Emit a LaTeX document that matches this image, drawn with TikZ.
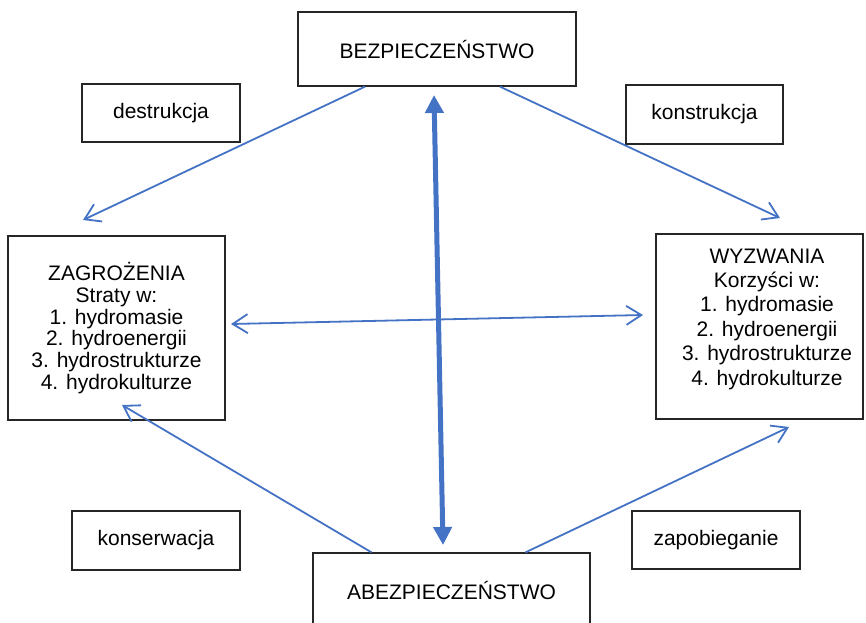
\documentclass[tikz,border=0pt]{standalone}
\usepackage{fontspec}
\setmainfont{Liberation Sans}
\usetikzlibrary{arrows.meta,calc}
\definecolor{linkblue}{RGB}{68,114,196}
\begin{document}
\begin{tikzpicture}[x=1pt,y=-1pt,
  box/.style={draw=black!85,line width=1.3pt,inner sep=0pt,
    font=\fontsize{21}{22}\selectfont},
  txt/.style={inner sep=0pt,align=center,font=\fontsize{21}{22}\selectfont},
  barb/.tip={Straight Barb[length=15pt,width=19pt]},
  link/.style={draw=linkblue,line width=1.8pt},
  mainlink/.style={draw=linkblue,fill=linkblue,line width=5pt,
    {Triangle[length=18pt,width=18pt]}-{Triangle[length=18pt,width=18pt]}}]

\useasboundingbox (0,0) rectangle (866,622);
\clip (0,0) rectangle (866,622);

% boxes
\node[box,minimum width=278pt,minimum height=74pt] (bez) at (437,49) {BEZPIECZEŃSTWO};
\node[box,minimum width=158pt,minimum height=58pt] (destr) at (161,113) {destrukcja};
\node[box,minimum width=157pt,minimum height=59pt] (konstr) at (704.5,114.5) {konstrukcja};
\node[box,minimum width=217pt,minimum height=184pt,align=center,
  font=\fontsize{21}{21.7}\selectfont] (zag) at (116.5,328)
  {ZAGROŻENIA\\Straty w:\\1. hydromasie\\2. hydroenergii\\3. hydrostrukturze\\4. hydrokulturze};
\node[box,minimum width=207pt,minimum height=185pt] (wyz) at (759.5,326.5) {};
\node[txt,font=\fontsize{21}{24.4}\selectfont] (wyzt) at (767,319)
  {WYZWANIA\\Korzyści w:\\1. hydromasie\\2. hydroenergii\\3. hydrostrukturze\\4. hydrokulturze};
\node[box,minimum width=168pt,minimum height=59pt] (kons) at (156,540.5) {konserwacja};
\node[box,minimum width=168pt,minimum height=58pt] (zap) at (716,540) {zapobieganie};
\node[box,minimum width=277pt,minimum height=100pt] (abez) at (451.5,603) {};
\node[txt] (abezt) at (451.5,590) {ABEZPIECZEŃSTWO};

% free ends of the connectors
\coordinate (t1) at (83,220);
\coordinate (t2) at (780,218);
\coordinate (t3) at (122,405);
\coordinate (t4) at (789,427);
\coordinate (h1) at (231,324);
\coordinate (h2) at (643,315);
\coordinate (v1) at (434,95);
\coordinate (v2) at (443,545);

% connectors
\draw[link,-barb] ($(bez.south)+(-72,0)$) -- (t1);
\draw[link,-barb] ($(bez.south)+(63,0)$) -- (t2);
\draw[link,-barb] ($(abez.north)+(-80,0)$) -- (t3);
\draw[link,-barb] ($(abez.north)+(74,0)$) -- (t4);
\draw[link,barb-barb] (h1) -- (h2);
\draw[mainlink] (v1) -- (v2);
\end{tikzpicture}
\end{document}
